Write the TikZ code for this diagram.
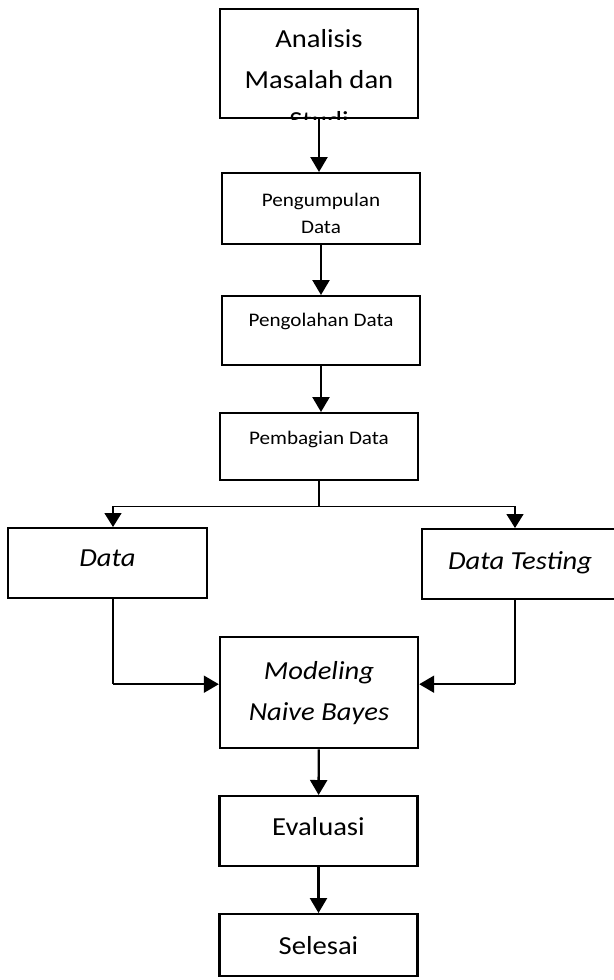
\documentclass[tikz,border=0pt]{standalone}
\usepackage{fontspec}
\setmainfont[FakeStretch=1.1]{Carlito}
\usepackage{tikz}
\usetikzlibrary{arrows.meta, positioning}

\tikzset{
  box/.style={draw, line width=1.2pt, minimum width=99pt, inner sep=0pt, align=center},
  big/.style={font=\fontsize{13}{20.5}\selectfont},
  small/.style={font=\fontsize{9.6}{13.5}\selectfont},
  flow/.style={line width=1.2pt, -{Triangle[width=8.5pt,length=7.5pt]}},
  thinflow/.style={line width=0.75pt, -{Triangle[width=8.5pt,length=7pt]}},
  sideflow/.style={line width=1pt, -{Triangle[width=8.5pt,length=7.5pt]}},
}

\begin{document}
\begin{tikzpicture}[x=0.5pt, y=-0.5pt]
    \useasboundingbox (0,0) rectangle (614,980);
    % main column
    \node[box, anchor=north, minimum height=54.5pt] (analisis) at (319,8) {};
    \node[box, anchor=north, minimum height=35.5pt] (kumpul) at (321,172) {};
    \node[box, small, anchor=north, text height=15pt, text depth=19.5pt] (olah) at (321,295) {Pengolahan Data};
    \node[box, small, anchor=north, text height=15.5pt, text depth=18pt] (bagi) at (319,412) {Pembagian Data};
    % split
    \node[box, big, anchor=north, minimum width=99.5pt, text height=19pt, text depth=16pt] (train) at (107.5,527) {\itshape Data};
    \node[box, big, anchor=north, minimum width=98pt, text height=20pt, text depth=15pt] (test) at (520,528) {\itshape Data Testing};
    \node[box, big, anchor=north, minimum height=55.5pt] (model) at (319,636) {\itshape Modeling\\\itshape Naive Bayes};
    \node[box, big, anchor=north, text height=19.5pt, text depth=15.5pt] (eval) at (318.5,795) {Evaluasi};
    \node[box, big, anchor=north, text height=20pt, text depth=11pt] (selesai) at (318.5,913) {Selesai};
    % clipped texts
    \begin{scope}
      \clip (analisis.south west) rectangle (analisis.north east);
      \node[big, anchor=north, inner sep=0pt, align=center] (analisistext) at ([yshift=-10.5pt]analisis.north) {Analisis\\Masalah dan\\Studi};
    \end{scope}
    \begin{scope}
      \clip ([yshift=5.2pt]kumpul.south west) rectangle (kumpul.north east);
      \node[small, anchor=north, inner sep=0pt, align=center] (kumpultext) at ([yshift=-10.4pt]kumpul.north) {Pengumpulan\\Data};
    \end{scope}
    % connectors
    \draw[flow] (analisis) -- (analisis |- kumpul.north);
    \draw[flow] (kumpul) -- (olah);
    \draw[flow] (olah) -- (olah |- bagi.north);
    \path (bagi.south) ++(0,25) coordinate (split);
    \draw[line width=0.75pt] (bagi) -- (split);
    \draw[thinflow] (split) -| ([xshift=2.75pt]train.north);
    \draw[thinflow] (split) -| ([xshift=-2.5pt]test.north);
    \draw[line width=0.75pt] ([xshift=2.75pt]train.south) -- ([xshift=2.75pt,yshift=4.25pt]train.south |- model.west) coordinate (trainturn);
    \draw[sideflow] (trainturn) -- ([yshift=4.25pt]model.west);
    \draw[line width=0.75pt] ([xshift=-2.5pt]test.south) -- ([xshift=-2.5pt,yshift=4.25pt]test.south |- model.east) coordinate (testturn);
    \draw[sideflow] (testturn) -- ([yshift=4.25pt]model.east);
    \draw[flow] (model) -- (eval);
    \draw[flow] (eval) -- (selesai);
\end{tikzpicture}
\end{document}
